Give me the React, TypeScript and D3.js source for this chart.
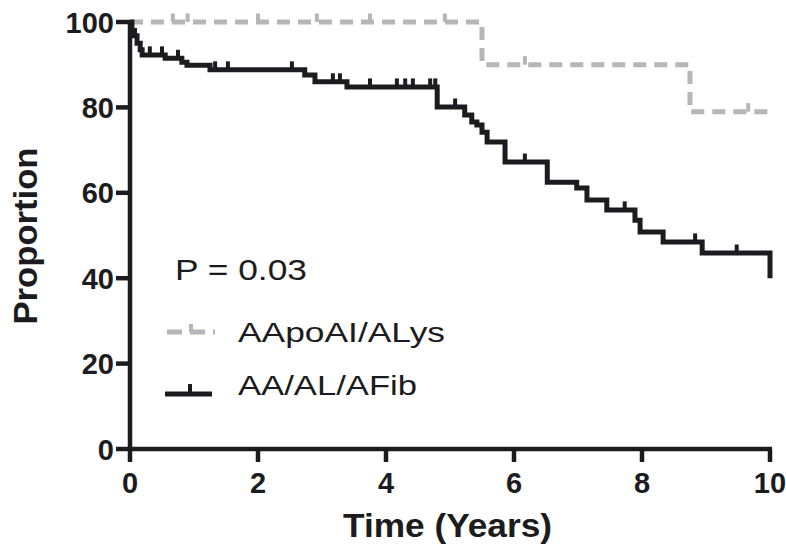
import React from "react";
import * as d3 from "d3";

// Kaplan-Meier step data: [time (years), proportion after drop]
const groupAName = "AApoAI/ALys";
const groupBName = "AA/AL/AFib";
const groupASteps: [number, number][] = [
  [0, 100],
  [5.5, 90],
  [8.75, 79],
  [10, 79],
];
const groupACensors: number[] = [0.67, 0.9, 2.0, 2.92, 3.75, 4.92, 6.17, 9.66];

const groupBSteps: [number, number][] = [
  [0, 100],
  [0.03, 98],
  [0.07, 96.8],
  [0.11, 95],
  [0.16, 93.5],
  [0.19, 92.3],
  [0.55, 91.5],
  [0.81, 90.6],
  [0.89, 89.9],
  [1.25, 88.8],
  [2.73, 87.6],
  [2.89, 86],
  [3.39, 84.8],
  [4.8, 80.1],
  [5.23, 78.2],
  [5.34, 76.6],
  [5.42, 75.9],
  [5.5, 74.2],
  [5.58, 71.9],
  [5.86, 67.2],
  [6.52, 62.5],
  [6.98, 61.1],
  [7.14, 58.3],
  [7.45, 56],
  [7.89, 53.6],
  [7.97, 50.8],
  [8.33, 48.5],
  [8.94, 45.9],
  [10, 40],
];
const groupBCensors: number[] = [
  0.31, 0.5, 0.75, 1.33, 1.53, 2.53, 3.17, 3.28, 3.75, 4.17, 4.3, 4.42, 4.69,
  4.77, 5.08, 6.17, 7.73, 8.83, 9.48,
];

const xTicks = [0, 2, 4, 6, 8, 10];
const yTicks = [0, 20, 40, 60, 80, 100];
const pValueLabel = "P = 0.03";

const W = 786;
const H = 547;
const FONT = "'Liberation Sans', Arial, Helvetica, sans-serif";
const BLACK = "#1c1c20";
const GRAY = "#b6b6ba";

function valueAt(steps: [number, number][], t: number): number {
  let v = steps[0][1];
  for (const [st, sv] of steps) {
    if (st <= t) v = sv;
    else break;
  }
  return v;
}

export default function App() {
  const x = d3.scaleLinear().domain([0, 10]).range([130, 770]);
  const y = d3.scaleLinear().domain([0, 100]).range([449, 22]);

  const line = d3
    .line<[number, number]>()
    .x((d) => x(d[0]))
    .y((d) => y(d[1]))
    .curve(d3.curveStepAfter);

  const censorTicks = (
    steps: [number, number][],
    times: number[],
    color: string,
    key: string
  ) =>
    times.map((t, i) => {
      const v = valueAt(steps, t);
      return (
        <line
          key={key + i}
          x1={x(t)}
          x2={x(t)}
          y1={y(v)}
          y2={y(v) - 8.5}
          stroke={color}
          strokeWidth={4}
        />
      );
    });

  return (
    <svg
      width={W}
      height={H}
      style={{ position: "absolute", left: 0, top: 0, background: "#fff" }}
    >
      <rect width={W} height={H} fill="#fff" />
      {/* curves */}
      <path
        d={line(groupASteps) || ""}
        fill="none"
        stroke={GRAY}
        strokeWidth={5}
        strokeDasharray="13 8"
      />
      {censorTicks(groupASteps, groupACensors, GRAY, "a")}
      <path
        d={line(groupBSteps) || ""}
        fill="none"
        stroke={BLACK}
        strokeWidth={5}
        strokeLinejoin="miter"
      />
      {censorTicks(groupBSteps, groupBCensors, BLACK, "b")}

      {/* axes */}
      <line x1={x(0)} x2={x(0)} y1={y(100) - 2} y2={y(0) + 2} stroke={BLACK} strokeWidth={4.5} />
      <line x1={x(0) - 2} x2={x(10) + 2} y1={y(0)} y2={y(0)} stroke={BLACK} strokeWidth={4.5} />
      {yTicks.map((t) => (
        <g key={"yt" + t}>
          <line x1={x(0) - 14} x2={x(0)} y1={y(t)} y2={y(t)} stroke={BLACK} strokeWidth={4.5} />
          <text
            x={114}
            y={y(t) + 10.5}
            textAnchor="end"
            fontFamily={FONT}
            fontWeight="bold"
            fontSize={29}
            fill={BLACK}
          >
            {t}
          </text>
        </g>
      ))}
      {xTicks.map((t) => (
        <g key={"xt" + t}>
          <line x1={x(t)} x2={x(t)} y1={y(0)} y2={y(0) + 13} stroke={BLACK} strokeWidth={4.5} />
          <text
            x={x(t)}
            y={493}
            textAnchor="middle"
            fontFamily={FONT}
            fontWeight="bold"
            fontSize={29}
            fill={BLACK}
          >
            {t}
          </text>
        </g>
      ))}

      {/* axis titles */}
      <text
        x={343}
        y={537}
        fontFamily={FONT}
        fontWeight="bold"
        fontSize={33}
        fill={BLACK}
        textLength={209}
        lengthAdjust="spacingAndGlyphs"
      >
        Time (Years)
      </text>
      <text
        transform="translate(37,236) rotate(-90)"
        textAnchor="middle"
        fontFamily={FONT}
        fontWeight="bold"
        fontSize={33}
        fill={BLACK}
        textLength={177}
        lengthAdjust="spacingAndGlyphs"
      >
        Proportion
      </text>

      {/* legend */}
      <text
        x={175}
        y={280}
        fontFamily={FONT}
        fontSize={30}
        fill={BLACK}
        textLength={132}
        lengthAdjust="spacingAndGlyphs"
      >
        {pValueLabel}
      </text>
      <line
        x1={167}
        x2={215}
        y1={332}
        y2={332}
        stroke={GRAY}
        strokeWidth={5}
        strokeDasharray="15 8"
      />
      <line x1={191} x2={191} y1={332} y2={324} stroke={GRAY} strokeWidth={4} />
      <text
        x={238}
        y={342}
        fontFamily={FONT}
        fontSize={28}
        fill={BLACK}
        textLength={207}
        lengthAdjust="spacingAndGlyphs"
      >
        {groupAName}
      </text>
      <line x1={165} x2={212} y1={394} y2={394} stroke={BLACK} strokeWidth={5} />
      <line x1={190} x2={190} y1={394} y2={384} stroke={BLACK} strokeWidth={4} />
      <text
        x={238}
        y={395}
        fontFamily={FONT}
        fontSize={28}
        fill={BLACK}
        textLength={179}
        lengthAdjust="spacingAndGlyphs"
      >
        {groupBName}
      </text>
    </svg>
  );
}
